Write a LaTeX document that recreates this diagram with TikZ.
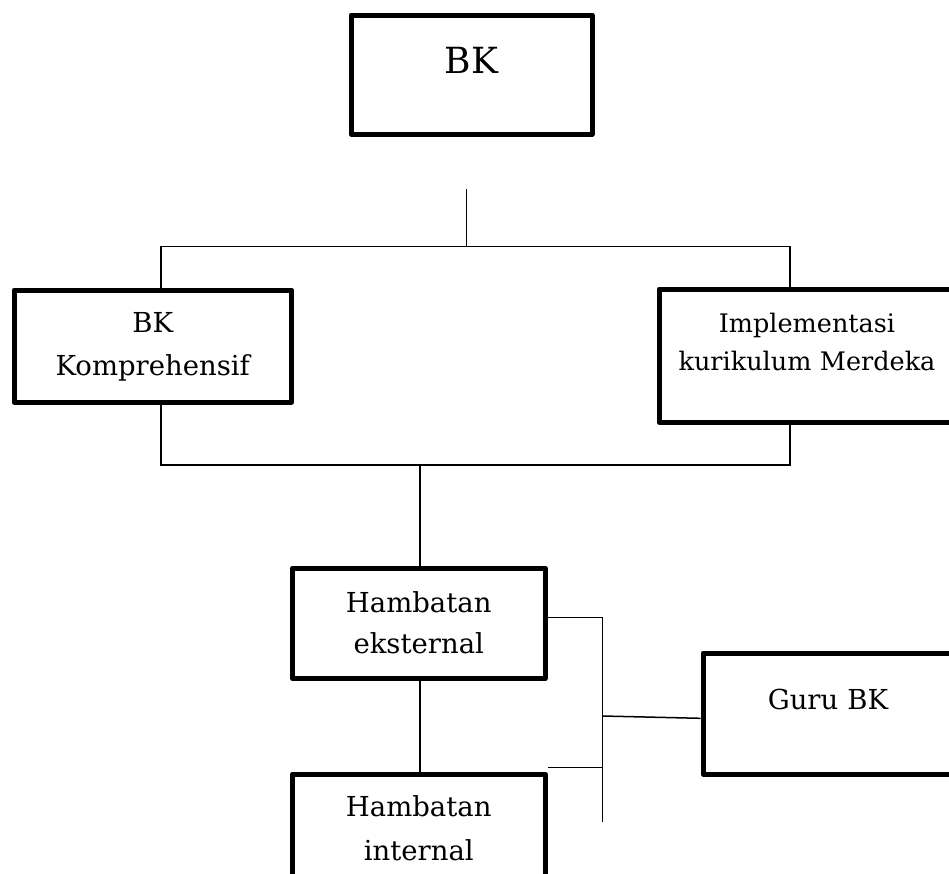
\documentclass[tikz,border=0pt]{standalone}
\usepackage{fontspec}
\setmainfont{DejaVu Serif}
\usetikzlibrary{positioning,calc}
\tikzset{
  kotak/.style={draw, line width=5pt, line join=round, inner sep=0pt, align=center},
  garis/.style={line width=1.5pt},
  teks/.style={font=\fontsize{27.5}{#1}\selectfont}
}

\begin{document}
\begin{tikzpicture}[x=1pt,y=-1pt]
\useasboundingbox (0,0) rectangle (949,873);
\clip (0,0) rectangle (949,873);

\node[kotak, text width=241pt, text height=58pt, text depth=61pt, font=\fontsize{36}{40}\selectfont] (bk) at (471.5,74.5) {BK};
\node[kotak, teks=43, text width=277.5pt, text height=42pt, text depth=70pt] (komp) at (152.75,346) {BK\\Komprehensif};
\node[kotak, text width=296pt, text height=43pt, text depth=90pt, font=\fontsize{25.5}{38}\selectfont] (impl) at (807,355.5) {Implementasi\\kurikulum Merdeka};
\node[kotak, teks=41, text width=252.5pt, text height=44pt, text depth=66.5pt] (ext) at (418.75,623.25) {Hambatan\\eksternal};
\node[kotak, teks=44, text width=252.5pt, text height=42pt, text depth=68pt] (int) at (418.75,829) {Hambatan\\internal};
\node[kotak, teks=40, text width=250pt, text height=56pt, text depth=65pt] (guru) at (828,713.5) {Guru BK};

\coordinate (bkbawah) at (466.7,189);
\coordinate (busatas) at (466.7,246.5);
\coordinate (kiriatas) at (161,246.5);
\coordinate (kananatas) at (790,246.5);
\coordinate (kiribawah) at (161,465);
\coordinate (kananbawah) at (790,465);
\coordinate (tengah) at (420,465);
\coordinate (cabang) at (602.7,617.3);
\coordinate (cabangbawah) at (602.7,822);
\coordinate (cabanggur) at (602.7,716);
\coordinate (cabangint) at (602.7,767.7);

\draw[garis] (bkbawah) -- (busatas);
\draw[garis] (kiriatas |- komp.north) -- (kiriatas) -- (kananatas) -- (kananatas |- impl.north);
\draw[garis] (kiriatas |- komp.south) -- (kiribawah) -- (kananbawah) -- (kananatas |- impl.south);
\draw[garis] (tengah) -- (tengah |- ext.north);
\draw[garis] (tengah |- ext.south) -- (tengah |- int.north);
\draw[garis] (ext.east |- cabang) -- (cabang) -- (cabangbawah);
\draw[garis] (cabanggur) -- ([yshift=-4.8pt]guru.west);
\draw[garis] (int.east |- cabangint) -- (cabangint);
\end{tikzpicture}
\end{document}
